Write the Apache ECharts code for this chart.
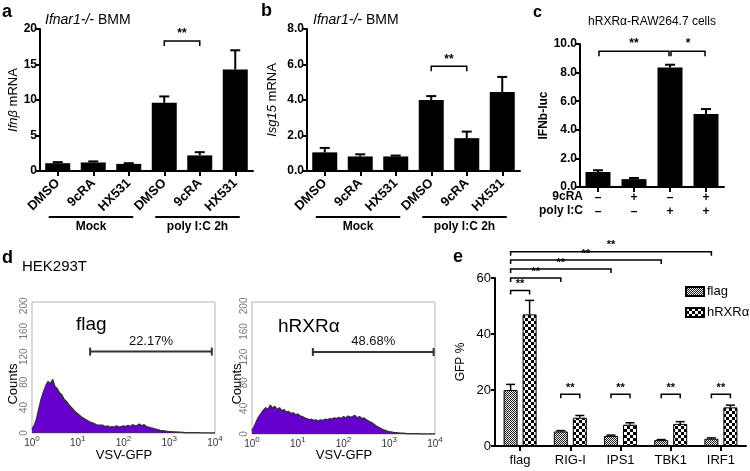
<!DOCTYPE html>
<html><head><meta charset="utf-8">
<script src="https://cdn.jsdelivr.net/npm/echarts@6/dist/echarts.min.js"></script>
<style>html,body{margin:0;padding:0;background:#fff}#c{width:750px;height:471px}</style>
</head><body><div id="c"></div>
<script>
// ---------------- DATA ----------------
const treatCats = ['DMSO', '9cRA', 'HX531', 'DMSO', '9cRA', 'HX531'];
const groupLabels = ['Mock', 'poly I:C 2h'];
const groupRanges = [[0, 2], [3, 5]];
const ifnbMean = [1.1, 1.2, 1.0, 9.6, 2.2, 14.3];
const ifnbErr = [0.15, 0.15, 0.1, 0.9, 0.45, 2.7];
const isg15Mean = [1.05, 0.82, 0.82, 4.0, 1.85, 4.45];
const isg15Err = [0.25, 0.12, 0.05, 0.22, 0.37, 0.85];
const c9cRA = ['–', '+', '–', '+'];
const cPolyIC = ['–', '–', '+', '+'];
const lucMean = [1.05, 0.55, 8.35, 5.1];
const lucErr = [0.12, 0.08, 0.2, 0.35];
const aBrackets = [[3, 0, 4, 0, 18.3]];
const bBrackets = [[3, 0, 4, 0, 5.9]];
const cBrackets = [[0, 0, 2, 0, 9.5], [2, 0, 3, 0, 9.5]];
const cBracketLabels = ['**', '*'];
const histStep = 0.05; // decades per bin (x = log10 of VSV-GFP)
const flagCounts = [6,12,22,38,53,64,74,81,77,84, 73,70,63,60,53,50,45,41,37,33,
  30,27,24,22,20,18,16,15,13,12, 12,12,10,11,9,10,9,11,9,10,
  11,10,12,10,13,11,12,14,11,13, 10,9,8,7,6,5,4,3.5,3,2.5,
  2,2,1.5,1.5,1,1,0.8,0.5,0.5,0.4, 0.3,0.3,0.2,0.2,0.1,0.1,0,0,0,0,0];
const hrxrCounts = [5,12,20,27,32,37,41,38,45,40, 43,38,41,36,38,34,35,32,33,30,
  31,28,27,25,24,22,23,21,22,20, 22,21,23,22,24,23,25,24,26,24,
  27,25,28,26,27,29,25,27,24,25, 22,20,18,16,13,11,9,7,6,4.5,
  3.5,3,2,2,1.5,1,1,0.8,0.5,0.4, 0.3,0.3,0.2,0.2,0.1,0.1,0,0,0,0,0];
const flagGate = [[1.27, 3.93, 128]];
const hrxrGate = [[1.33, 3.97, 128]];
const flagPct = '22.17%';
const hrxrPct = '48.68%';
const eCats = ['flag', 'RIG-I', 'IPS1', 'TBK1', 'IRF1'];
const eFlagMean = [20, 5.2, 3.6, 2.1, 2.6];
const eFlagErr = [2, 0.3, 0.3, 0.2, 0.3];
const eHrxrMean = [47, 10.1, 7.6, 7.9, 13.8];
const eHrxrErr = [5, 0.8, 0.7, 0.8, 0.8];
const eBrackets = [[0,0,0,1,55.5],[0,0,1,0,60],[0,0,2,0,63.2],[0,0,3,0,66.4],[0,0,4,0,69.4],
  [1,0,1,1,18.5],[2,0,2,1,18.5],[3,0,3,1,18.5],[4,0,4,1,18.5]];

// ---------------- STYLE ----------------
const FONT = '"Liberation Sans", Arial, sans-serif';
const E_BAR_W = 14, E_BAR_GAP = 5;
const E_OFF = (E_BAR_W + E_BAR_GAP) / 2;

function pattern(cell, bg, fg) {
  const cv = document.createElement('canvas');
  cv.width = cv.height = cell * 2;
  const g = cv.getContext('2d');
  g.fillStyle = bg; g.fillRect(0, 0, cell * 2, cell * 2);
  g.fillStyle = fg; g.fillRect(0, 0, cell, cell); g.fillRect(cell, cell, cell, cell);
  return cv;
}
const flagPat = pattern(1, '#eeeeee', '#222222');
const hrxrPat = pattern(3, '#000000', '#ffffff');

const blackLine = {show: true, onZero: false, lineStyle: {color: '#000', width: 2}};
const blackTick = (len) => ({show: true, length: len, alignWithLabel: true, lineStyle: {color: '#000', width: 2}});

function catAxis(gi, n, labels, extra) {
  return Object.assign({
    gridIndex: gi, type: 'category', data: labels.map((_, i) => 'k' + i),
    axisLine: blackLine, axisTick: blackTick(5), splitLine: {show: false},
    axisLabel: Object.assign({interval: 0, color: '#000', fontFamily: FONT,
      formatter: (v, i) => labels[i]}, extra || {})
  });
}
function valAxis(gi, max, interval, fmt, extra) {
  return Object.assign({
    gridIndex: gi, type: 'value', min: 0, max: max, interval: interval,
    axisLine: blackLine, axisTick: {show: true, length: 4, lineStyle: {color: '#000', width: 2}},
    splitLine: {show: false},
    axisLabel: {color: '#000', fontFamily: FONT, fontWeight: 'bold', fontSize: 12, margin: 3, formatter: fmt}
  }, extra || {});
}

function barSeries(gi, data, extra) {
  return Object.assign({type: 'bar', xAxisIndex: gi, yAxisIndex: gi, data: data,
    barWidth: 25, itemStyle: {color: '#000'}, silent: true, z: 2}, extra || {});
}
function errSeries(gi, mean, err, off, cap, lw) {
  return {type: 'custom', xAxisIndex: gi, yAxisIndex: gi, z: 4, silent: true, clip: false,
    data: mean.map((m, i) => [i, m, m + err[i]]), encode: {x: 0, y: [1, 2]},
    renderItem: (params, api) => {
      const p0 = api.coord([api.value(0), api.value(1)]);
      const p1 = api.coord([api.value(0), api.value(2)]);
      const cx = p0[0] + off;
      const st = {stroke: '#000', lineWidth: lw};
      return {type: 'group', children: [
        {type: 'line', shape: {x1: cx, y1: p0[1], x2: cx, y2: p1[1]}, style: st},
        {type: 'line', shape: {x1: cx - cap / 2, y1: p1[1], x2: cx + cap / 2, y2: p1[1]}, style: st}
      ]};
    }};
}
function bracketSeries(gi, items, labels, off, inset, tick, fs) {
  return {type: 'custom', xAxisIndex: gi, yAxisIndex: gi, z: 6, silent: true, clip: false,
    data: items.map(b => [b[0], b[2], b[4]]), encode: {x: [0, 1], y: 2},
    renderItem: (params, api) => {
      const b = items[params.dataIndex];
      const p1 = api.coord([api.value(0), api.value(2)]);
      const p2 = api.coord([api.value(1), api.value(2)]);
      const x1 = p1[0] + (b[1] ? off : -off) + inset;
      const x2 = p2[0] + (b[3] ? off : -off) - inset;
      const y = p1[1];
      const st = {stroke: '#000', lineWidth: 1.5, fill: null};
      return {type: 'group', children: [
        {type: 'polyline', shape: {points: [[x1, y + tick], [x1, y], [x2, y], [x2, y + tick]]}, style: st},
        {type: 'text', style: {text: labels[params.dataIndex], x: (x1 + x2) / 2, y: y - 1,
          align: 'center', verticalAlign: 'bottom', fontSize: fs, fontWeight: 'bold', fontFamily: FONT, fill: '#000'}}
      ]};
    }};
}
function groupSeries(gi) {
  return {type: 'custom', xAxisIndex: gi, yAxisIndex: gi, z: 6, silent: true, clip: false,
    data: groupRanges.map(g => [g[0], g[1], 0]), encode: {x: [0, 1], y: 2},
    renderItem: (params, api) => {
      const p1 = api.coord([api.value(0), 0]);
      const p2 = api.coord([api.value(1), 0]);
      const y = p1[1] + 46, x1 = p1[0] - 9, x2 = p2[0] + 4.5;
      return {type: 'group', children: [
        {type: 'line', shape: {x1: x1, y1: y, x2: x2, y2: y}, style: {stroke: '#000', lineWidth: 2}},
        {type: 'text', style: {text: groupLabels[params.dataIndex], x: (x1 + x2) / 2, y: y + 4,
          align: 'center', verticalAlign: 'top', fontSize: 12, fontWeight: 'bold', fontFamily: FONT, fill: '#000'}}
      ]};
    }};
}
function histSeries(gi, counts) {
  return {type: 'line', xAxisIndex: gi, yAxisIndex: gi, silent: true, showSymbol: false, z: 2,
    data: counts.map((v, i) => [i * histStep, v]),
    lineStyle: {color: '#333333', width: 1.5}, areaStyle: {color: '#6600cc', opacity: 1}};
}
function gateSeries(gi, gate, label) {
  return {type: 'custom', xAxisIndex: gi, yAxisIndex: gi, z: 6, silent: true, clip: false,
    data: gate, encode: {x: [0, 1], y: 2},
    renderItem: (params, api) => {
      const p1 = api.coord([api.value(0), api.value(2)]);
      const p2 = api.coord([api.value(1), api.value(2)]);
      const st = {stroke: '#333', lineWidth: 2};
      return {type: 'group', children: [
        {type: 'line', shape: {x1: p1[0], y1: p1[1], x2: p2[0], y2: p2[1]}, style: st},
        {type: 'line', shape: {x1: p1[0], y1: p1[1] - 4, x2: p1[0], y2: p1[1] + 4}, style: st},
        {type: 'line', shape: {x1: p2[0], y1: p2[1] - 4, x2: p2[0], y2: p2[1] + 4}, style: st},
        {type: 'text', style: {text: label, x: (p1[0] + p2[0]) / 2, y: p1[1] - 4, align: 'center',
          verticalAlign: 'bottom', fontSize: 13, fontFamily: FONT, fill: '#111'}}
      ]};
    }};
}
function histX(gi) {
  return {gridIndex: gi, type: 'value', min: 0, max: 4, interval: 1,
    axisLine: {show: false}, axisTick: {show: false}, splitLine: {show: false},
    axisLabel: {margin: 2, formatter: v => '{b|10}{s|' + v + '}',
      rich: {b: {fontSize: 10, color: '#333', fontFamily: FONT, lineHeight: 13, verticalAlign: 'bottom'},
             s: {fontSize: 8, color: '#333', fontFamily: FONT, lineHeight: 8, verticalAlign: 'top'}}}};
}
function histY(gi) {
  return {gridIndex: gi, type: 'value', min: 0, max: 206, interval: 40,
    axisLine: {show: false}, axisTick: {show: false}, splitLine: {show: false},
    axisLabel: {rotate: 90, margin: 3, fontSize: 10, color: '#777', fontFamily: FONT,
      formatter: v => (v % 40 === 0 && v <= 200) ? String(v) : ''}};
}
function txt(x, y, text, o) {
  return Object.assign({type: 'text', x: x, y: y, silent: true,
    style: Object.assign({text: text, fill: '#000', fontFamily: FONT, fontSize: 12,
      align: 'left', verticalAlign: 'middle'}, o || {})});
}

const chart = echarts.init(document.getElementById('c'));
chart.setOption({
  animation: false,
  backgroundColor: '#fff',
  textStyle: {fontFamily: FONT},
  grid: [
    {left: 40, top: 29, width: 213, height: 142},
    {left: 307, top: 29, width: 213, height: 142},
    {left: 580, top: 44, width: 144, height: 143},
    {left: 32, top: 302, width: 183, height: 131, show: true, borderColor: '#b4b4b4', borderWidth: 1},
    {left: 252, top: 302, width: 183, height: 132, show: true, borderColor: '#b4b4b4', borderWidth: 1},
    {left: 495, top: 278, width: 251, height: 168}
  ],
  xAxis: [
    catAxis(0, 6, treatCats, {rotate: 45, margin: 10, fontWeight: 'bold', fontSize: 13}),
    catAxis(1, 6, treatCats, {rotate: 45, margin: 10, fontWeight: 'bold', fontSize: 13}),
    catAxis(2, 4, c9cRA.map((v, i) => v + '\n' + cPolyIC[i]), {margin: 4, fontWeight: 'bold', fontSize: 12, lineHeight: 14}),
    histX(3), histX(4),
    catAxis(5, 5, eCats, {margin: 8, fontSize: 13})
  ],
  yAxis: [
    valAxis(0, 20, 5, v => String(v), {name: '{i|Ifnβ} mRNA', nameLocation: 'middle', nameGap: 20,
      nameTextStyle: {fontSize: 13, color: '#000', fontFamily: FONT, rich: {i: {fontStyle: 'italic', fontSize: 13, fontFamily: FONT}}}}),
    valAxis(1, 8, 2, v => v.toFixed(1), {name: '{i|Isg15} mRNA', nameLocation: 'middle', nameGap: 28,
      nameTextStyle: {fontSize: 13, color: '#000', fontFamily: FONT, rich: {i: {fontStyle: 'italic', fontSize: 13, fontFamily: FONT}}}}),
    valAxis(2, 10, 2, v => v.toFixed(1), {name: 'IFNb-luc', nameLocation: 'middle', nameGap: 30,
      nameTextStyle: {fontSize: 12, fontWeight: 'bold', color: '#000', fontFamily: FONT}}),
    histY(3), histY(4),
    valAxis(5, 60, 20, v => String(v), {name: 'GFP %', nameLocation: 'middle', nameGap: 28,
      nameTextStyle: {fontSize: 12, color: '#000', fontFamily: FONT},
      axisLabel: {color: '#000', fontFamily: FONT, fontSize: 13, margin: 4}})
  ],
  legend: {data: ['flag', 'hRXRα'], orient: 'vertical', left: 680, top: 280, itemWidth: 18, itemHeight: 9,
    itemGap: 8, icon: 'rect', selectedMode: false,
    textStyle: {fontSize: 13, color: '#000', fontFamily: FONT, padding: [0, 0, 0, -2]}},
  series: [
    barSeries(0, ifnbMean), errSeries(0, ifnbMean, ifnbErr, 0, 10, 2),
    bracketSeries(0, aBrackets, ['**'], 0, 0, 5, 12), groupSeries(0),
    barSeries(1, isg15Mean), errSeries(1, isg15Mean, isg15Err, 0, 10, 2),
    bracketSeries(1, bBrackets, ['**'], 0, 0, 5, 12), groupSeries(1),
    barSeries(2, lucMean), errSeries(2, lucMean, lucErr, 0, 10, 2),
    bracketSeries(2, cBrackets, cBracketLabels, 0, 1, 5, 12),
    histSeries(3, flagCounts), gateSeries(3, flagGate, flagPct),
    histSeries(4, hrxrCounts), gateSeries(4, hrxrGate, hrxrPct),
    {name: 'flag', type: 'bar', xAxisIndex: 5, yAxisIndex: 5, data: eFlagMean, barWidth: E_BAR_W,
      barGap: (E_BAR_GAP / E_BAR_W * 100) + '%', silent: true,
      itemStyle: {color: {image: flagPat, repeat: 'repeat'}, borderColor: '#000', borderWidth: 1}},
    {name: 'hRXRα', type: 'bar', xAxisIndex: 5, yAxisIndex: 5, data: eHrxrMean, barWidth: E_BAR_W,
      barGap: (E_BAR_GAP / E_BAR_W * 100) + '%', silent: true,
      itemStyle: {color: {image: hrxrPat, repeat: 'repeat'}, borderColor: '#000', borderWidth: 1}},
    errSeries(5, eFlagMean, eFlagErr, -E_OFF, 9, 1.5),
    errSeries(5, eHrxrMean, eHrxrErr, E_OFF, 9, 1.5),
    bracketSeries(5, eBrackets, eBrackets.map(() => '**'), E_OFF, 0, 4, 11)
  ],
  graphic: [
    txt(2, 12, 'a', {fontSize: 18, fontWeight: 'bold'}),
    txt(261, 11, 'b', {fontSize: 18, fontWeight: 'bold'}),
    txt(533, 13, 'c', {fontSize: 16, fontWeight: 'bold'}),
    txt(2, 258, 'd', {fontSize: 18, fontWeight: 'bold'}),
    txt(453, 257, 'e', {fontSize: 18, fontWeight: 'bold'}),
    txt(45, 20, '{i|Ifnar1-/-} BMM', {fontSize: 14, rich: {i: {fontStyle: 'italic', fontSize: 14, fontFamily: FONT}}}),
    txt(313, 20, '{i|Ifnar1-/-} BMM', {fontSize: 14, rich: {i: {fontStyle: 'italic', fontSize: 14, fontFamily: FONT}}}),
    txt(652, 22, 'hRXRα-RAW264.7 cells', {fontSize: 12, align: 'center'}),
    txt(583, 197, '9cRA', {fontSize: 12, fontWeight: 'bold', align: 'right'}),
    txt(583, 211, 'poly I:C', {fontSize: 12, fontWeight: 'bold', align: 'right'}),
    txt(22, 267, 'HEK293T', {fontSize: 15}),
    txt(76, 325, 'flag', {fontSize: 19}),
    txt(278, 327, 'hRXRα', {fontSize: 19}),
    Object.assign(txt(13, 384, 'Counts', {fontSize: 13, align: 'center'}), {rotation: Math.PI / 2}),
    Object.assign(txt(237, 384, 'Counts', {fontSize: 13, align: 'center'}), {rotation: Math.PI / 2}),
    txt(124, 455, 'VSV-GFP', {fontSize: 13, align: 'center'}),
    txt(344, 455, 'VSV-GFP', {fontSize: 13, align: 'center'})
  ]
});
</script>
</body></html>
